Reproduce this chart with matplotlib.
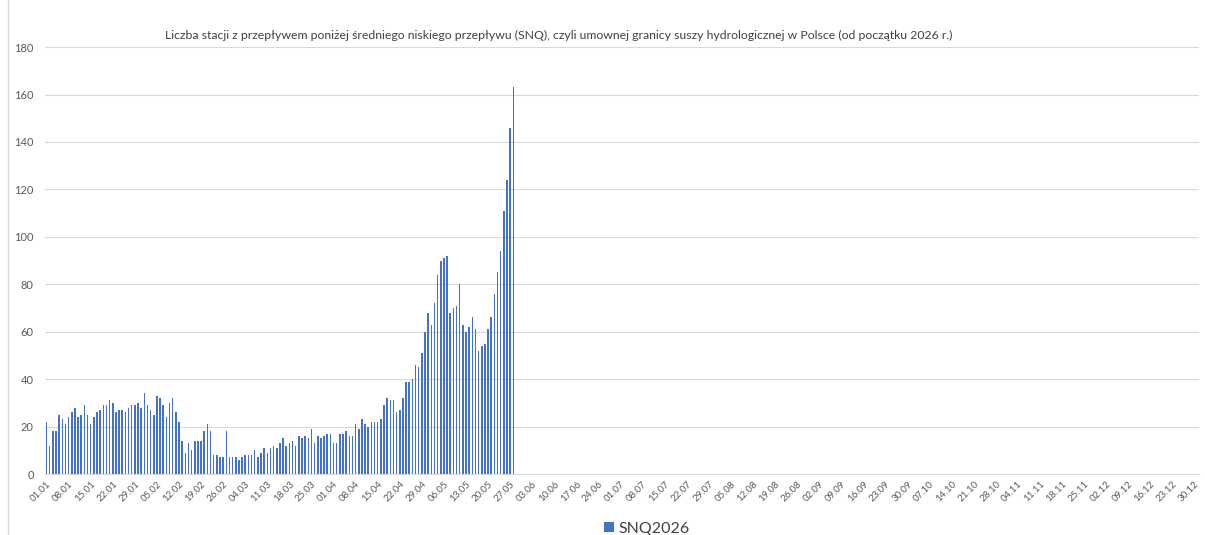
import numpy as np
import matplotlib.pyplot as plt
import matplotlib.lines as mlines
import datetime as dt

# daily counts of stations below SNQ, from 01.01
snq_2026 = [22, 12, 18, 18, 25, 23, 21, 24, 26, 28, 24, 25, 29, 25, 21, 24,
            26, 27, 29, 29, 31, 30, 26, 27, 27, 26, 28, 29, 29, 30, 28, 34,
            29, 27, 25, 33, 32, 29, 24, 30, 32, 26, 22, 14, 9, 13, 10, 14,
            14, 14, 18, 21, 18, 8, 8, 7, 7, 18, 7, 7, 7, 6, 7, 8, 8, 8,
            10, 7, 9, 11, 9, 11, 12, 11, 13, 15, 12, 13, 14, 12, 16, 15,
            16, 15, 19, 13, 16, 15, 16, 17, 17, 13, 13, 17, 17, 18, 16, 16,
            21, 19,
            23, 21, 20, 22, 22, 22, 23, 29, 32, 31, 31, 26, 27, 32, 39, 39,
            40, 46, 45, 51, 60, 68, 63, 72,
            84, 90, 91, 92, 68, 70, 71, 80, 63, 60, 62, 66, 61, 52, 54, 55,
            61, 66, 76, 85, 94, 111, 124, 146, 163]

# the source sheet uses a 366-day calendar (29.02 included)
start = dt.date(2024, 1, 1)
days = [start + dt.timedelta(days=i) for i in range(366)]
day_labels = [d.strftime('%d.%m') for d in days]
title = ('Liczba stacji z przepływem poniżej średniego niskiego przepływu (SNQ), '
         'czyli umownej granicy suszy hydrologicznej w Polsce (od początku 2026 r.)')

plt.rcParams['font.family'] = ['Lato', 'DejaVu Sans']

fig = plt.figure(figsize=(12.05, 5.35), dpi=100)
ax = fig.add_axes([0.0373, 0.114, 0.958, 0.798])

x = np.arange(len(snq_2026))
ax.bar(x, snq_2026, width=0.5, color='#4472C4', label='SNQ2026', zorder=3)

ax.set_xlim(-0.5, len(days) - 0.5)
ax.set_ylim(0, 180)
ax.set_yticks(np.arange(0, 181, 20))
ax.tick_params(axis='y', length=0, labelsize=8, colors='#595959', pad=8)
ticks = list(range(0, len(days), 7))
ax.set_xticks(ticks)
ax.set_xticklabels([day_labels[i] for i in ticks], rotation=45, ha='right',
                   rotation_mode='anchor', fontsize=7, color='#595959')
ax.tick_params(axis='x', length=0, pad=4)
ax.grid(axis='y', color='#d9d9d9', linewidth=0.8, zorder=0)
for s in ['top', 'right', 'left']:
    ax.spines[s].set_visible(False)
ax.spines['bottom'].set_color('#d9d9d9')

fig.text(0.464, 0.934, title, ha='center', va='center', fontsize=8.8, color='#404040')

# chart area border on the left
fig.add_artist(mlines.Line2D([0.0068, 0.0068], [0.0, 1.0], color='#d9d9d9', linewidth=1))

fig.legend(loc='center', bbox_to_anchor=(0.537, 0.012), frameon=False, fontsize=11.5,
           handlelength=0.6, handleheight=0.6, handletextpad=0.3, labelcolor='#404040')

fig.savefig('out.png', dpi=100)
